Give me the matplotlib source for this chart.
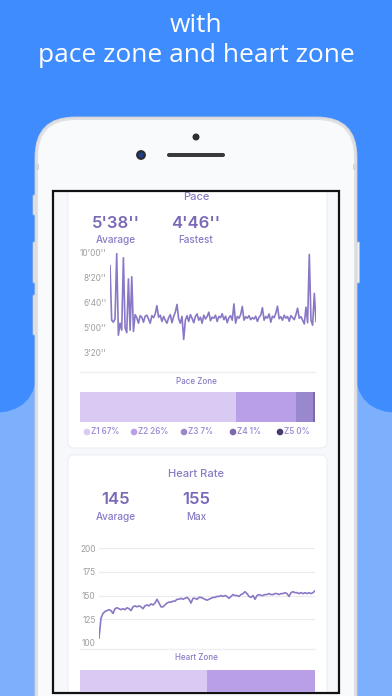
import numpy as np
import matplotlib.pyplot as plt
from matplotlib.patches import FancyBboxPatch, Rectangle, Circle

W, H = 392, 696

# pace samples in seconds per km
pace_sec = [548, 330, 322, 335, 597, 270, 318, 290, 580, 300, 280, 495, 290, 504, 285,
            352, 340, 318, 348, 342, 322, 346, 350, 335, 318, 348, 340, 355, 388, 342,
            350, 325, 345, 330, 318, 340, 352, 320, 345, 362, 393, 335, 318, 345, 253,
            330, 348, 325, 352, 338, 320, 345, 355, 330, 342, 318, 350, 335, 345, 362,
            328, 342, 338, 350, 325, 345, 340, 356, 332, 346, 320, 340, 348, 330, 395,
            318, 345, 338, 352, 385, 330, 344, 338, 348, 332, 340, 335, 346, 325, 342,
            350, 380, 330, 345, 338, 355, 322, 346, 340, 358, 386, 336, 344, 330, 350,
            338, 345, 326, 348, 340, 332, 352, 378, 338, 344, 330, 315, 382, 320, 593,
            330, 310, 437, 325]
pace_ticks = [200, 300, 400, 500, 600]
pace_tick_labels = ["3'20''", "5'00''", "6'40''", "8'20''", "10'00''"]
pace_stats = [("5'38''", "Avarage"), ("4'46''", "Fastest")]

zone_names = ["Z1", "Z2", "Z3", "Z4", "Z5"]
pace_zone_pct = [67, 26, 7, 1, 0]
heart_zone_pct = [54, 46]
zone_colors = ["#d8caf2", "#b9a0e6", "#9a88cc", "#7d68ae", "#4a3b6e"]

heart_bpm = [105, 126, 131, 133, 134, 135, 134, 131, 136, 137, 136, 135, 136, 135, 137,
             136, 134, 138, 139, 138, 139, 138, 136, 139, 140, 139, 141, 140, 142, 146,
             142, 138, 138, 140, 142, 143, 143, 144, 144, 146, 146, 147, 146, 147, 148,
             146, 142, 147, 147, 146, 148, 148, 147, 146, 145, 146, 147, 148, 148, 149,
             149, 150, 149, 150, 149, 147, 149, 151, 150, 150, 149, 151, 152, 154, 152,
             149, 148, 150, 146, 150, 151, 150, 150, 151, 151, 152, 151, 151, 152, 152,
             151, 152, 152, 153, 152, 149, 153, 154, 153, 153, 152, 153, 152, 153, 152,
             153, 152, 153, 155]
heart_ticks = [100, 125, 150, 175, 200]
heart_stats = [("145", "Avarage"), ("155", "Max")]

DARK_BLUE = "#3e8cfd"
LIGHT_BLUE = "#7cb0fc"
TITLE_C = "#8a7bc6"
NUM_C = "#7b69b8"
LINE_C = "#8a78c6"
TICK_C = "#9d9d9d"
APP_FONT = ["Inter", "DejaVu Sans"]


def px_axes(fig, x0, y0, x1, y1):
    ax = fig.add_axes([x0 / W, 1 - y1 / H, (x1 - x0) / W, (y1 - y0) / H])
    ax.set_facecolor("none")
    return ax


def rbox(ax, x0, y0, x1, y1, r, **kw):
    p = FancyBboxPatch((x0, y0), x1 - x0, y1 - y0,
                       boxstyle=f"round,pad=0,rounding_size={r}", **kw)
    ax.add_patch(p)
    return p


def draw_phone(bg):
    # blue backdrop
    bg.add_patch(Rectangle((0, 0), W, 370, color=DARK_BLUE, lw=0))
    rbox(bg, -200, -100, 37, 413, 45, color=DARK_BLUE, lw=0)
    rbox(bg, 355, -100, 600, 413, 45, color=DARK_BLUE, lw=0)

    # side buttons
    for y0, y1 in [(195, 215), (242, 283), (295, 335)]:
        rbox(bg, 33, y0, 37, y1, 1, fc="#f2f2f4", ec="#b9bbc0", lw=0.6)
    rbox(bg, 355, 242, 359.5, 283, 1, fc="#f2f2f4", ec="#b9bbc0", lw=0.6)

    # body
    rbox(bg, 35, 117, 357, 900, 40, fc="#dfe0e3", ec="#cfd1d5", lw=0.6)
    rbox(bg, 38, 120, 354, 900, 37, fc="#f9fafb", lw=0)
    for x0 in (36, 353):
        bg.add_patch(Rectangle((x0, 164), 3, 6, color="#d6d7da", lw=0))

    # camera, speaker, sensor
    bg.add_patch(Circle((141, 155), 4.2, color="#2b2b2f"))
    bg.add_patch(Circle((141, 155), 2.0, color="#1e3f8a"))
    rbox(bg, 167, 153, 225, 157, 2, color="#3a3a3c", lw=0)
    bg.add_patch(Circle((196, 137), 2.8, color="#2f2f31"))

    # screen
    screen = Rectangle((53, 191), 286, 502, fc="#f7f8fb", lw=0)
    bg.add_patch(screen)
    return screen


def draw_cards(bg, screen):
    c1 = rbox(bg, 68, 170, 327, 448, 6, fc="white", ec="#eceef4", lw=0.8)
    c2 = rbox(bg, 68, 455, 327, 760, 6, fc="white", ec="#eceef4", lw=0.8)
    c1.set_clip_path(screen)
    c2.set_clip_path(screen)

    # separators
    bg.plot([80, 315], [372, 372], color="#eeeff3", lw=1)
    bg.plot([80, 315], [649, 649], color="#eeeff3", lw=1)

    bg.text(196, 197, "Pace", ha="center", va="center", fontsize=8,
            color=TITLE_C, fontweight="medium", family=APP_FONT)
    bg.text(196, 474, "Heart Rate", ha="center", va="center", fontsize=8,
            color=TITLE_C, fontweight="medium", family=APP_FONT)
    for stats, y in [(pace_stats, 223), (heart_stats, 500)]:
        for (num, lab), x in zip(stats, [116, 196]):
            bg.text(x, y, num, ha="center", va="center", fontsize=12,
                    color=NUM_C, fontweight="semibold", family=APP_FONT)
            bg.text(x, y + 17, lab, ha="center", va="center", fontsize=7.2,
                    color=TITLE_C, fontweight="medium", family=APP_FONT)

    bg.text(196, 381, "Pace Zone", ha="center", va="center", fontsize=5.8,
            color=TITLE_C, fontweight="medium", family=APP_FONT)
    bg.text(196, 658, "Heart Zone", ha="center", va="center", fontsize=5.8,
            color=TITLE_C, fontweight="medium", family=APP_FONT)

    # pace zone legend
    for i, (name, pct) in enumerate(zip(zone_names, pace_zone_pct)):
        x = [87, 134, 184, 233, 280][i]
        bg.add_patch(Circle((x, 432), 2.6, color=zone_colors[i]))
        bg.text(x + 4, 432, f"{name} {pct}%", ha="left", va="center",
                fontsize=5.8, color="#a190d6", fontweight="semibold", family=APP_FONT)


def zone_bar(fig, box, pct):
    ax = px_axes(fig, *box)
    left = np.concatenate([[0], np.cumsum(pct)[:-1]])
    ax.barh(0, pct, left=left, height=1, color=zone_colors[:len(pct)], lw=0)
    ax.set_xlim(0, sum(pct))
    ax.set_ylim(-0.5, 0.5)
    ax.axis("off")


def style_chart(ax):
    for s in ax.spines.values():
        s.set_visible(False)
    ax.set_xticks([])
    ax.tick_params(axis="y", length=0, pad=2.5, labelsize=6, labelcolor=TICK_C)
    for lab in ax.get_yticklabels():
        lab.set_family(APP_FONT)


def pace_chart(fig):
    ax = px_axes(fig, 110, 252.7, 316, 352.7)
    ax.plot(range(len(pace_sec)), pace_sec, color=LINE_C, lw=1.2)
    ax.set_xlim(0, len(pace_sec) - 1)
    ax.set_ylim(200, 600)
    ax.set_yticks(pace_ticks)
    ax.set_yticklabels(pace_tick_labels)
    style_chart(ax)


def heart_chart(fig):
    ax = px_axes(fig, 99, 548.3, 315, 642.7)
    ax.plot(range(len(heart_bpm)), heart_bpm, color=LINE_C, lw=1.2, zorder=3)
    ax.set_xlim(0, len(heart_bpm) - 1)
    ax.set_ylim(100, 200)
    ax.set_yticks(heart_ticks)
    ax.grid(axis="y", color="#ebebf0", lw=0.8)
    ax.set_axisbelow(True)
    style_chart(ax)


def main():
    fig = plt.figure(figsize=(W / 100, H / 100), dpi=100)
    fig.patch.set_facecolor(LIGHT_BLUE)
    bg = fig.add_axes([0, 0, 1, 1])
    bg.set_xlim(0, W)
    bg.set_ylim(H, 0)
    bg.axis("off")

    title_font = ["Open Sans", "DejaVu Sans"]
    bg.text(196, 25, "with", ha="center", va="center", fontsize=19,
            color="white", fontweight="medium", family=title_font)
    bg.text(196, 55, "pace zone and heart zone", ha="center", va="center",
            fontsize=19, color="white", fontweight="medium", family=title_font)

    screen = draw_phone(bg)
    draw_cards(bg, screen)
    bg.add_patch(Rectangle((53, 191), 286, 502, fill=False, ec="#111111", lw=1.6))

    pace_chart(fig)
    zone_bar(fig, (80, 392, 315, 422), pace_zone_pct)
    heart_chart(fig)
    zone_bar(fig, (80, 669.5, 315, 692), heart_zone_pct)

    fig.savefig("out.png", dpi=100)


if __name__ == "__main__":
    main()
